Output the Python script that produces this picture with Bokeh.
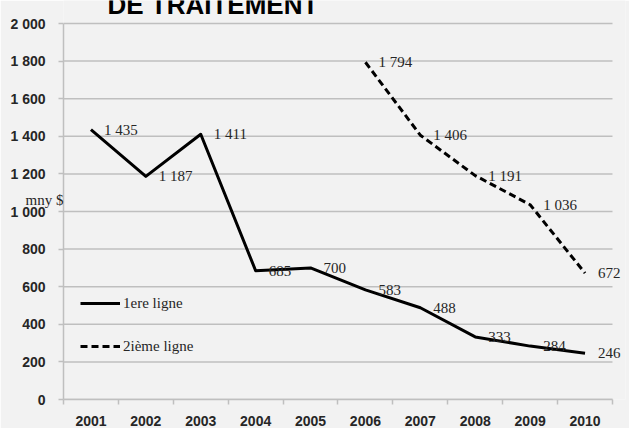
from bokeh.plotting import figure
from bokeh.models import (ColumnDataSource, FixedTicker, Range1d, Label, LabelSet, Legend, LegendItem)
from bokeh.embed import file_html
from bokeh.resources import INLINE

years = ["2001", "2002", "2003", "2004", "2005", "2006", "2007", "2008", "2009", "2010"]
first_line = [1435, 1187, 1411, 685, 700, 583, 488, 333, 284, 246]
second_line = [None, None, None, None, None, 1794, 1406, 1191, 1036, 672]
y_ticks = [0, 200, 400, 600, 800, 1000, 1200, 1400, 1600, 1800, 2000]
series_names = ["1ere ligne", "2ième ligne"]
title_text = "DE TRAITEMENT"
unit_text = "mny $"

BG = "#f2f2f2"
GRID = "#bfbfbf"
TXT = "#262626"
SERIF = "Liberation Serif"
SANS = "Liberation Sans"


def fmt(v):
    return f"{v:,}".replace(",", " ")


n = len(years)
ymax = y_ticks[-1]
xs = [i + 0.5 for i in range(n)]
y2 = [float("nan") if v is None else v for v in second_line]

# frame extends a little beyond the category/value area so that end labels and
# the (partly cut) heading above the chart are not clipped
p = figure(width=629, height=428, output_backend="svg", toolbar_location=None,
           x_range=Range1d(0, n + 0.237), y_range=Range1d(0, ymax * 1.0612),
           background_fill_color=BG, border_fill_color=BG,
           min_border_left=63, min_border_right=4, min_border_top=0, min_border_bottom=29)
p.outline_line_color = None
p.xgrid.grid_line_color = None
p.ygrid.grid_line_color = None

# horizontal gridlines only across the category area
p.segment(x0=[0] * len(y_ticks), x1=[n] * len(y_ticks), y0=y_ticks, y1=y_ticks,
          line_color=GRID, line_width=1.5)

# axes
p.yaxis.ticker = FixedTicker(ticks=y_ticks)
p.yaxis.major_label_overrides = {t: fmt(t) for t in y_ticks}
p.yaxis.bounds = (0, ymax)
p.xaxis.ticker = FixedTicker(ticks=xs, minor_ticks=list(range(n + 1)))
p.xaxis.major_label_overrides = {x: y for x, y in zip(xs, years)}
p.xaxis.bounds = (0, n)
for ax in (p.xaxis[0], p.yaxis[0]):
    ax.axis_line_color = GRID
    ax.axis_line_width = 1.5
    ax.major_label_text_font = SANS
    ax.major_label_text_font_size = "14px"
    ax.major_label_text_color = TXT
    ax.major_label_text_font_style = "bold"
p.xaxis.major_tick_line_color = None
p.xaxis.major_tick_out = 0
p.xaxis.major_tick_in = 0
p.xaxis.minor_tick_line_color = GRID
p.xaxis.minor_tick_line_width = 1.5
p.xaxis.minor_tick_out = 5
p.xaxis.minor_tick_in = 0
p.xaxis.major_label_standoff = 11
p.yaxis.major_tick_line_color = GRID
p.yaxis.major_tick_line_width = 1.5
p.yaxis.major_tick_out = 5
p.yaxis.major_tick_in = 0
p.yaxis.minor_tick_line_color = None
p.yaxis.major_label_standoff = 13

# unit label placed as a horizontal axis label overlapping the tick labels
p.yaxis.axis_label = unit_text
p.yaxis.axis_label_orientation = "horizontal"
p.yaxis.axis_label_standoff = -56
p.yaxis.axis_label_text_font = SERIF
p.yaxis.axis_label_text_font_style = "normal"
p.yaxis.axis_label_text_font_size = "15px"
p.yaxis.axis_label_text_color = TXT
p.yaxis.axis_label_text_baseline = "middle"

src1 = ColumnDataSource(dict(x=xs, y=first_line, t=[fmt(v) for v in first_line]))
lab2 = [(x, v) for x, v in zip(xs, second_line) if v is not None]
src2 = ColumnDataSource(dict(x=xs, y=y2))
src2l = ColumnDataSource(dict(x=[a for a, _ in lab2], y=[b for _, b in lab2], t=[fmt(b) for _, b in lab2]))

r1 = p.line("x", "y", source=src1, line_color="black", line_width=3, line_join="round")
r2 = p.line("x", "y", source=src2, line_color="black", line_width=3, line_dash="7 4")

for s in (src1, src2l):
    p.add_layout(LabelSet(x="x", y="y", text="t", source=s, x_offset=13,
                          text_align="left", text_baseline="middle",
                          text_font=SERIF, text_font_size="15px", text_color=TXT))

legend = Legend(items=[LegendItem(label=series_names[0], renderers=[r1]),
                       LegendItem(label=series_names[1], renderers=[r2])],
                location=(17, 43), padding=0, margin=0, spacing=23,
                glyph_width=40, glyph_height=20, label_standoff=3,
                label_text_font=SERIF, label_text_font_size="15px", label_text_color=TXT,
                background_fill_alpha=0, border_line_color=None)
p.add_layout(legend)

p.add_layout(Label(x=0.8, y=ymax * 1.05, text=title_text, text_font=SANS,
                   text_font_style="bold", text_font_size="26px", text_color="black",
                   text_baseline="alphabetic"))

open("out.html", "w").write(file_html(p, INLINE))
